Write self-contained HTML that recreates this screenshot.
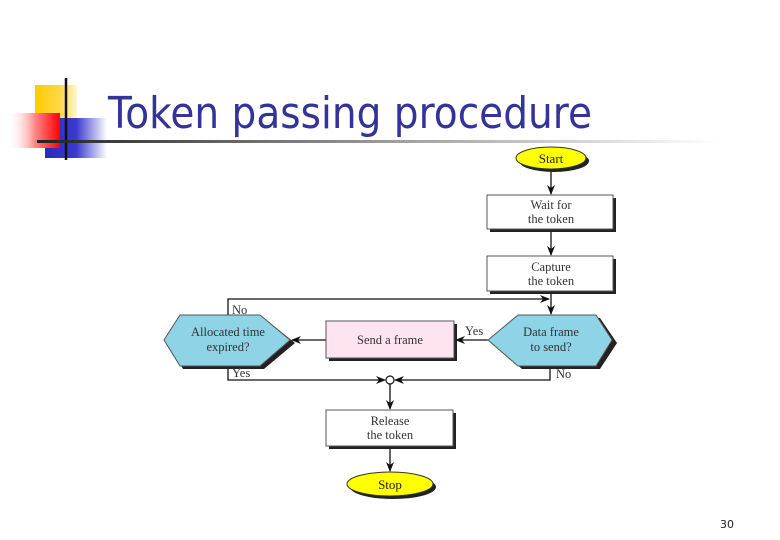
<!DOCTYPE html>
<html><head><meta charset="utf-8"><style>
html,body{margin:0;padding:0;background:#fff;width:780px;height:540px;overflow:hidden}
</style></head><body>
<svg width="780" height="540" viewBox="0 0 780 540" xmlns="http://www.w3.org/2000/svg" font-family="Liberation Serif, serif">
<defs>
<linearGradient id="rg" x1="0" x2="1"><stop offset="0" stop-color="#fff" stop-opacity="0.2"/><stop offset="0.5" stop-color="#f88"/><stop offset="1" stop-color="#f00"/></linearGradient>
<linearGradient id="bg" x1="0" x2="1"><stop offset="0" stop-color="#2a2ab8"/><stop offset="0.5" stop-color="#3a3ad0"/><stop offset="1" stop-color="#fff"/></linearGradient>
<linearGradient id="yg" x1="0" x2="1"><stop offset="0" stop-color="#ffcc00"/><stop offset="0.6" stop-color="#ffd84a"/><stop offset="1" stop-color="#fff6d0"/></linearGradient>
<linearGradient id="lg" x1="0" x2="1"><stop offset="0" stop-color="#222"/><stop offset="0.5" stop-color="#999"/><stop offset="1" stop-color="#fff"/></linearGradient>
<marker id="a" markerWidth="10" markerHeight="8" refX="9" refY="4" orient="auto" markerUnits="userSpaceOnUse"><path d="M0,0 L10,4 L0,8 L3,4 Z" fill="#111"/></marker>
</defs>
<!-- logo -->
<rect x="35" y="85" width="42" height="40" fill="url(#yg)"/>
<rect x="45" y="118" width="62" height="40" fill="url(#bg)"/>
<rect x="10" y="113" width="50" height="35" fill="url(#rg)"/>
<line x1="66" y1="78" x2="66" y2="160" stroke="#111" stroke-width="2.5"/>
<rect x="37" y="140" width="683" height="3" fill="url(#lg)"/>
<text x="108" y="128" font-family="DejaVu Sans, sans-serif" font-size="44" fill="#333399" textLength="484" lengthAdjust="spacingAndGlyphs">Token passing procedure</text>

<g stroke="#111" stroke-width="1.3" fill="none">
<line x1="551" y1="170" x2="551" y2="194" marker-end="url(#a)"/>
<line x1="551" y1="230" x2="551" y2="255" marker-end="url(#a)"/>
<line x1="551" y1="292" x2="551" y2="314" marker-end="url(#a)"/>
<polyline points="228,315 228,299 549,299" marker-end="url(#a)"/>
<line x1="488" y1="340" x2="456" y2="340" marker-end="url(#a)"/>
<line x1="326" y1="340" x2="292" y2="340" marker-end="url(#a)"/>
<polyline points="228,366 228,380 385,380" marker-end="url(#a)"/>
<polyline points="550,366 550,380 395,380" marker-end="url(#a)"/>
<line x1="390" y1="384" x2="390" y2="409" marker-end="url(#a)"/>
<line x1="390" y1="447" x2="390" y2="471" marker-end="url(#a)"/>
</g>
<circle cx="390" cy="380" r="4" fill="#fff" stroke="#111" stroke-width="1.2"/>

<!-- start -->
<ellipse cx="554" cy="161" rx="35" ry="11" fill="#222"/>
<ellipse cx="551" cy="158" rx="35" ry="11" fill="#ffff00" stroke="#333" stroke-width="1"/>
<text x="551" y="163" font-size="13" text-anchor="middle" fill="#222">Start</text>
<!-- boxes -->
<rect x="490" y="198" width="126" height="34" fill="#222"/>
<rect x="487" y="195" width="126" height="34" fill="#fff" stroke="#555"/>
<text x="551" y="209" font-size="12.5" text-anchor="middle" fill="#333">Wait for</text>
<text x="551" y="223" font-size="12.5" text-anchor="middle" fill="#333">the token</text>
<rect x="490" y="259" width="126" height="35" fill="#222"/>
<rect x="487" y="256" width="126" height="35" fill="#fff" stroke="#555"/>
<text x="551" y="271" font-size="12.5" text-anchor="middle" fill="#333">Capture</text>
<text x="551" y="285" font-size="12.5" text-anchor="middle" fill="#333">the token</text>
<!-- hexes -->
<polygon points="522,318 600,318 617,343 600,369 522,369 491,343" fill="#222"/>
<polygon points="518,315 596,315 612,340 596,366 518,366 488,340" fill="#8fd3e6" stroke="#555"/>
<text x="551" y="336" font-size="12.5" text-anchor="middle" fill="#333">Data frame</text>
<text x="551" y="351" font-size="12.5" text-anchor="middle" fill="#333">to send?</text>
<polygon points="183,318 264,318 295,343 264,369 183,369 167,343" fill="#222"/>
<polygon points="180,315 260,315 290,340 260,366 180,366 164,340" fill="#8fd3e6" stroke="#555"/>
<text x="228" y="336" font-size="12.5" text-anchor="middle" fill="#333">Allocated time</text>
<text x="228" y="351" font-size="12.5" text-anchor="middle" fill="#333">expired?</text>
<!-- send -->
<rect x="329" y="324" width="128" height="37" fill="#222"/>
<rect x="326" y="321" width="128" height="37" fill="#fde4f0" stroke="#555"/>
<text x="390" y="344" font-size="12.5" text-anchor="middle" fill="#333">Send a frame</text>
<!-- release -->
<rect x="329" y="413" width="127" height="36" fill="#222"/>
<rect x="326" y="410" width="127" height="36" fill="#fff" stroke="#555"/>
<text x="390" y="425" font-size="12.5" text-anchor="middle" fill="#333">Release</text>
<text x="390" y="439" font-size="12.5" text-anchor="middle" fill="#333">the token</text>
<!-- stop -->
<ellipse cx="393" cy="487" rx="43" ry="12" fill="#222"/>
<ellipse cx="390" cy="484" rx="43" ry="12" fill="#ffff00" stroke="#333"/>
<text x="390" y="489" font-size="13" text-anchor="middle" fill="#222">Stop</text>
<!-- labels -->
<text x="232" y="314" font-size="12.5" fill="#333">No</text>
<text x="465" y="335" font-size="12.5" fill="#333">Yes</text>
<text x="232" y="377" font-size="12.5" fill="#333">Yes</text>
<text x="556" y="378" font-size="12.5" fill="#333">No</text>
<text x="734" y="528" font-family="DejaVu Sans, sans-serif" font-size="11" text-anchor="end" fill="#222">30</text>
</svg>
</body></html>
